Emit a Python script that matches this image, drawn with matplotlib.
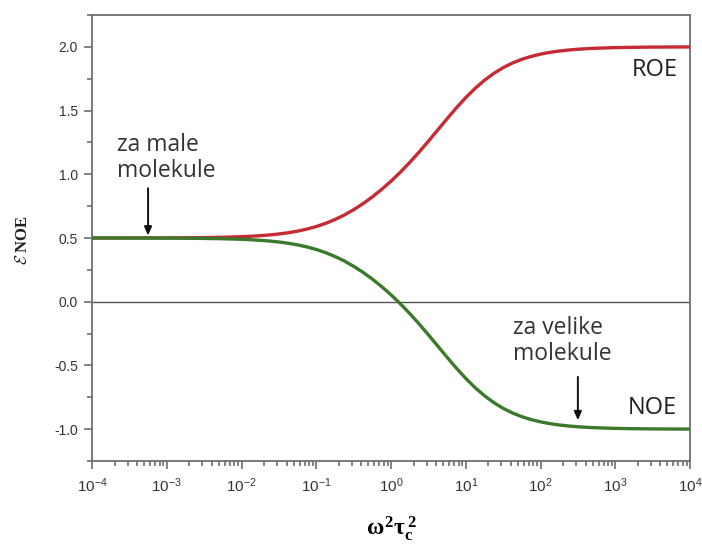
import math
import matplotlib
matplotlib.use("Agg")
import matplotlib.pyplot as plt
from matplotlib.ticker import FixedLocator, FuncFormatter, LogLocator, NullFormatter, MultipleLocator

plt.rcParams['axes.unicode_minus'] = False
plt.rcParams['mathtext.fontset'] = 'custom'
plt.rcParams['mathtext.rm'] = 'Liberation Serif:bold'
plt.rcParams['mathtext.it'] = 'Liberation Serif:bold'
plt.rcParams['mathtext.bf'] = 'Liberation Serif:bold'
plt.rcParams['mathtext.sf'] = 'Liberation Sans'

# data: log10(omega^2 tau_c^2)
log_x = [-4.0, -3.75, -3.5, -3.25, -3.0, -2.75, -2.5, -2.25, -2.125, -2.0,
         -1.875, -1.75, -1.625, -1.5, -1.375, -1.25, -1.125, -1.0, -0.875,
         -0.75, -0.625, -0.5, -0.375, -0.25, -0.125, 0.0, 0.125, 0.25, 0.375,
         0.5, 0.625, 0.75, 0.875, 1.0, 1.125, 1.25, 1.375, 1.5, 1.625, 1.75,
         1.875, 2.0, 2.125, 2.25, 2.375, 2.5, 2.625, 2.75, 3.0, 3.25, 3.5,
         3.75, 4.0]
noe = [0.4999, 0.4998, 0.4997, 0.4994, 0.4990, 0.4981, 0.4967, 0.4942, 0.4922,
       0.4897, 0.4863, 0.4819, 0.4761, 0.4685, 0.4587, 0.4461, 0.4301, 0.4101,
       0.3853, 0.3553, 0.3197, 0.2782, 0.2308, 0.1776, 0.1187, 0.0541,
       -0.0163, -0.0924, -0.1738, -0.2594, -0.3476, -0.4359, -0.5214, -0.6016,
       -0.6741, -0.7377, -0.7917, -0.8366, -0.8731, -0.9022, -0.9251, -0.9429,
       -0.9567, -0.9672, -0.9752, -0.9813, -0.9859, -0.9894, -0.9940, -0.9966,
       -0.9981, -0.9989, -0.9994]
roe = [0.5001, 0.5002, 0.5003, 0.5006, 0.5010, 0.5019, 0.5033, 0.5058, 0.5078,
       0.5103, 0.5137, 0.5181, 0.5239, 0.5315, 0.5413, 0.5539, 0.5699, 0.5899,
       0.6147, 0.6447, 0.6803, 0.7218, 0.7692, 0.8224, 0.8813, 0.9459,
       1.0163, 1.0924, 1.1738, 1.2594, 1.3476, 1.4359, 1.5214, 1.6016,
       1.6741, 1.7377, 1.7917, 1.8366, 1.8731, 1.9022, 1.9251, 1.9429,
       1.9567, 1.9672, 1.9752, 1.9813, 1.9859, 1.9894, 1.9940, 1.9966,
       1.9981, 1.9989, 1.9994]
x = [10 ** v for v in log_x]

y_ticks = [-1.0, -0.5, 0.0, 0.5, 1.0, 1.5, 2.0]
x_ticks_exp = [-4, -3, -2, -1, 0, 1, 2, 3, 4]

fig = plt.figure(figsize=(7.02, 5.49), dpi=100)
ax = fig.add_axes([92 / 702, 1 - 461 / 549, (690 - 92) / 702, (461 - 15) / 549])

red = '#c62a32'
green = '#3b7a2b'
ax.axhline(0, color='#555555', lw=1.0, zorder=1)
ax.plot(x, roe, color=red, lw=2.4, solid_capstyle='butt', solid_joinstyle='round', zorder=3)
ax.plot(x, noe, color=green, lw=2.4, solid_capstyle='butt', solid_joinstyle='round', zorder=3)

ax.set_xscale('log')
ax.set_xlim(1e-4, 1e4)
ax.set_ylim(-1.25, 2.25)

ax.xaxis.set_major_locator(FixedLocator([10.0 ** e for e in x_ticks_exp]))
ax.xaxis.set_major_formatter(FuncFormatter(lambda v, p: r'$\mathsf{10^{%d}}$' % round(math.log10(v))))
ax.xaxis.set_minor_locator(LogLocator(base=10, subs=range(2, 10), numticks=100))
ax.xaxis.set_minor_formatter(NullFormatter())
ax.yaxis.set_major_locator(FixedLocator(y_ticks))
ax.yaxis.set_major_formatter(FuncFormatter(lambda v, p: '%.1f' % v))
ax.yaxis.set_minor_locator(MultipleLocator(0.25))

spine_c = '#6e6e6e'
for s in ax.spines.values():
    s.set_color(spine_c)
    s.set_linewidth(1.3)
ax.tick_params(which='both', direction='out', color=spine_c, width=1.2,
               top=False, right=False)
ax.tick_params(which='major', length=6, labelsize=10, labelcolor='#333333', pad=4)
ax.tick_params(which='minor', length=3.5)
for lab in ax.get_yticklabels():
    lab.set_family('Liberation Sans')
ax.tick_params(axis='x', labelsize=11, pad=5)

ax.set_xlabel(r'$\omega^2\tau_c^{\,2}$', fontsize=17, labelpad=14)
fig.text(23 / 702, 1 - 240 / 549, r'$\mathcal{E}$ NOE', rotation=90, ha='center', va='center',
         fontsize=12, fontweight='bold', family=['Liberation Serif', 'DejaVu Serif'],
         math_fontfamily='cm', color='#222222')

tfont = dict(family='Open Sans', color='#333333', fontsize=16.5, linespacing=1.1)
ax.text(10 ** -3.665, 1.13, 'za male\nmolekule', ha='left', va='center', **tfont)
ax.text(10 ** 1.63, -0.31, 'za velike\nmolekule', ha='left', va='center', **tfont)
ax.text(10 ** 3.83, 1.82, 'ROE', ha='right', va='center', family='Open Sans',
        color='#222222', fontsize=17)
ax.text(10 ** 3.83, -0.835, 'NOE', ha='right', va='center', family='Open Sans',
        color='#222222', fontsize=17)

arrow = dict(arrowstyle='-|>,head_length=0.5,head_width=0.22', color='#111111', lw=1.4,
             shrinkA=0, shrinkB=0)
ax.annotate('', xy=(10 ** -3.25, 0.52), xytext=(10 ** -3.25, 0.89), arrowprops=arrow)
ax.annotate('', xy=(10 ** 2.5, -0.93), xytext=(10 ** 2.5, -0.59), arrowprops=arrow)

fig.savefig('out.png', dpi=100)
